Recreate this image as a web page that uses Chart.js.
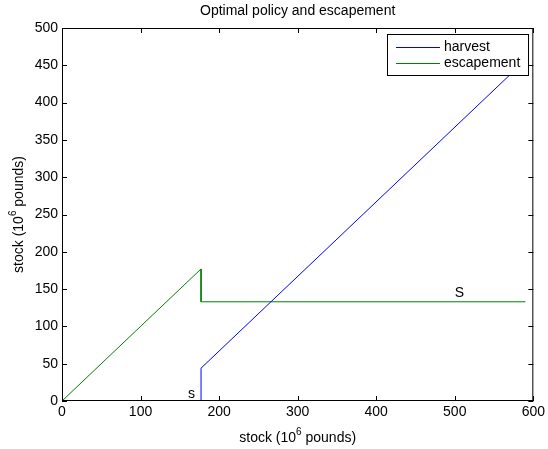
<!DOCTYPE html>
<html>
<head>
<meta charset="utf-8">
<script src="https://cdn.jsdelivr.net/npm/chart.js@4/dist/chart.umd.min.js"></script>
<style>
  html, body { margin: 0; padding: 0; background: #fff; }
  #wrap { width: 548px; height: 449px; }
</style>
</head>
<body>
<div id="wrap"><canvas id="myCanvas" width="548" height="449"></canvas></div>
<script>
// values
var stock = [0, 177, 177, 590];
var harvest = [0, 0, 44, 457];
var escapement = [0, 177, 133, 133];
var seriesNames = ["harvest", "escapement"];
var seriesColors = ["#0000ff", "#008000"];
var xTicks = [0, 100, 200, 300, 400, 500, 600];
var yTicks = [0, 50, 100, 150, 200, 250, 300, 350, 400, 450, 500];
var labels = [
  { text: "s", x: 165, y: 9 },
  { text: "S", x: 506, y: 144 }
];

var FONT = "'Liberation Sans', Arial, sans-serif";

function pts(xs, ys) {
  var out = [];
  for (var i = 0; i < xs.length; i++) out.push({ x: xs[i], y: ys[i] });
  return out;
}

// box, inward ticks, title, axis labels, legend, s/S annotations
var matlabLook = {
  id: "matlabLook",
  afterDraw: function (chart) {
    var ctx = chart.ctx;
    var a = chart.chartArea;
    var xs = chart.scales.x;
    var ys = chart.scales.y;
    ctx.save();

    ctx.strokeStyle = "#000";
    ctx.lineWidth = 1;
    ctx.strokeRect(a.left + 0.5, a.top + 0.5, a.right - a.left - 1, a.bottom - a.top - 1);

    ctx.beginPath();
    xTicks.forEach(function (v) {
      var px = Math.round(xs.getPixelForValue(v)) + 0.5;
      ctx.moveTo(px, a.bottom); ctx.lineTo(px, a.bottom - 5);
      ctx.moveTo(px, a.top); ctx.lineTo(px, a.top + 5);
    });
    yTicks.forEach(function (v) {
      var py = Math.round(ys.getPixelForValue(v)) + 0.5;
      ctx.moveTo(a.left, py); ctx.lineTo(a.left + 5, py);
      ctx.moveTo(a.right, py); ctx.lineTo(a.right - 5, py);
    });
    ctx.stroke();

    ctx.fillStyle = "#000";
    ctx.textBaseline = "middle";

    // annotations
    ctx.font = "14px " + FONT;
    ctx.textAlign = "center";
    labels.forEach(function (l) {
      ctx.fillText(l.text, xs.getPixelForValue(l.x), ys.getPixelForValue(l.y));
    });

    // title
    ctx.font = "14px " + FONT;
    ctx.fillText("Optimal policy and escapement", (a.left + a.right) / 2, 11);

    // axis titles with superscript
    function supLabel(cx, cy) {
      ctx.font = "14px " + FONT;
      var p1 = "stock (10", p2 = "6", p3 = " pounds)";
      var w1 = ctx.measureText(p1).width, w3 = ctx.measureText(p3).width;
      ctx.font = "10px " + FONT;
      var w2 = ctx.measureText(p2).width;
      var x0 = cx - (w1 + w2 + w3) / 2;
      ctx.textAlign = "left";
      ctx.font = "14px " + FONT;
      ctx.fillText(p1, x0, cy);
      ctx.fillText(p3, x0 + w1 + w2, cy);
      ctx.font = "10px " + FONT;
      ctx.fillText(p2, x0 + w1, cy - 6);
    }
    supLabel((a.left + a.right) / 2, 438);
    ctx.save();
    ctx.translate(19, (a.top + a.bottom) / 2);
    ctx.rotate(-Math.PI / 2);
    supLabel(0, 0);
    ctx.restore();

    // legend
    var lx = 387, ly = 34, lw = 141, lh = 41;
    ctx.fillStyle = "#fff";
    ctx.fillRect(lx, ly, lw, lh);
    ctx.strokeStyle = "#000";
    ctx.strokeRect(lx + 0.5, ly + 0.5, lw, lh);
    ctx.font = "14px " + FONT;
    ctx.textAlign = "left";
    for (var i = 0; i < seriesNames.length; i++) {
      var y = ly + 13 + i * 16;
      ctx.fillStyle = seriesColors[i];
      ctx.fillRect(396, y, 44, 1);
      ctx.fillStyle = "#000";
      ctx.fillText(seriesNames[i], 444, y);
    }

    ctx.restore();
  }
};

var ctx = document.getElementById("myCanvas");

var chart = new Chart(ctx, {
  type: "line",
  data: {
    datasets: [
      {
        label: seriesNames[0],
        data: pts(stock, harvest),
        borderColor: seriesColors[0],
        borderWidth: 1,
        pointRadius: 0,
        tension: 0,
        fill: false
      },
      {
        label: seriesNames[1],
        data: pts(stock, escapement),
        borderColor: seriesColors[1],
        borderWidth: 1,
        pointRadius: 0,
        tension: 0,
        fill: false
      }
    ]
  },
  options: {
    responsive: false,
    animation: false,
    layout: { padding: { left: 0, right: 13, top: 28, bottom: 0 } },
    plugins: {
      legend: { display: false },
      tooltip: { enabled: false },
      title: { display: false }
    },
    scales: {
      x: {
        type: "linear",
        min: 0,
        max: 600,
        afterFit: function (s) { s.height = 48; },
        afterBuildTicks: function (s) { s.ticks = xTicks.map(function (v) { return { value: v }; }); },
        grid: { display: false, drawTicks: false },
        border: { display: false },
        ticks: { color: "#000", font: { family: FONT, size: 14 }, padding: 3, maxRotation: 0 }
      },
      y: {
        type: "linear",
        min: 0,
        max: 500,
        afterFit: function (s) { s.width = 62; },
        afterBuildTicks: function (s) { s.ticks = yTicks.map(function (v) { return { value: v }; }); },
        grid: { display: false, drawTicks: false },
        border: { display: false },
        ticks: { color: "#000", font: { family: FONT, size: 14 }, padding: 4 }
      }
    }
  },
  plugins: [matlabLook]
});
</script>
</body>
</html>
